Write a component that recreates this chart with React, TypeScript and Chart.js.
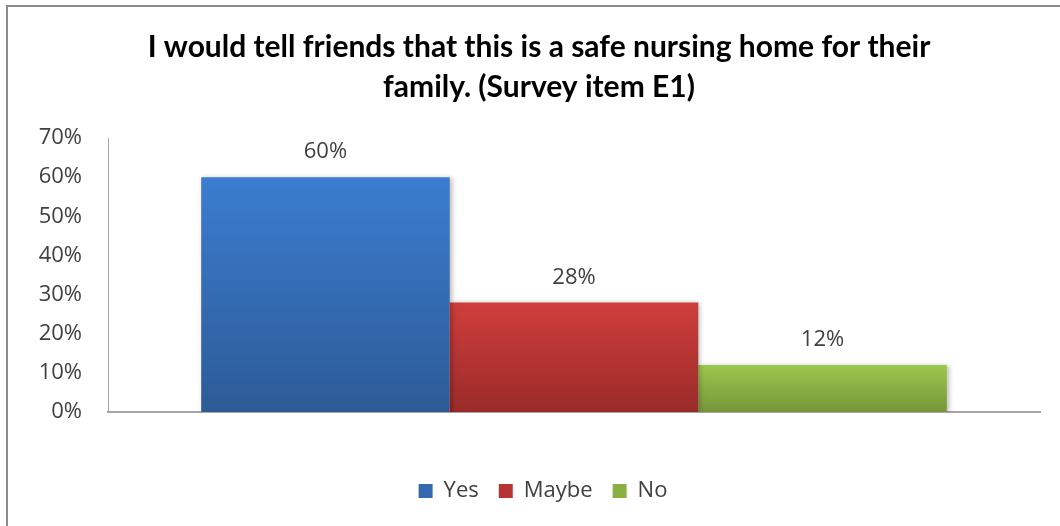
import React, { useEffect, useRef } from "react";
import { Chart, registerables } from "chart.js";

Chart.register(...registerables);

const titleLines = [
  "I would tell friends that this is a safe nursing home for their",
  "family. (Survey item E1)",
];
const categories = [""];
const seriesNames = ["Yes", "Maybe", "No"];
const yesValues = [60];
const maybeValues = [28];
const noValues = [12];
const yTicks = [0, 10, 20, 30, 40, 50, 60, 70];

const topColors = ["#3b7dcf", "#cf3e3b", "#9cc74c"];
const bottomColors = ["#2c5b96", "#9a2b2a", "#76953a"];
const legendColors = ["#3569b0", "#b83432", "#8aaf43"];

const TICK_FONT = "'Open Sans', 'DejaVu Sans', sans-serif";
const TITLE_FONT = "Lato, 'Open Sans', sans-serif";

export default function App() {
  const ref = useRef<HTMLCanvasElement | null>(null);

  useEffect(() => {
    const canvas = ref.current;
    if (!canvas) return;

    const gradientFor = (i: number) => (ctx: any) => {
      const chart = ctx.chart;
      const area = chart.chartArea;
      if (!area || !chart.scales.y) return topColors[i];
      const v = ctx.raw ?? 0;
      const yTop = chart.scales.y.getPixelForValue(v);
      const yBot = chart.scales.y.getPixelForValue(0);
      const g = chart.ctx.createLinearGradient(0, yTop, 0, yBot);
      g.addColorStop(0, topColors[i]);
      g.addColorStop(1, bottomColors[i]);
      return g;
    };

    const bgPlugin = {
      id: "bgBorder",
      afterLayout(chart: any) {
        const lg = chart.legend;
        if (lg) {
          lg.left += 23;
          lg.right += 23;
        }
      },
      beforeDraw(chart: any) {
        const c = chart.ctx;
        c.save();
        c.fillStyle = "#ffffff";
        c.fillRect(0, 0, chart.width, chart.height);
        c.strokeStyle = "#8c8c8c";
        c.lineWidth = 2;
        c.beginPath();
        c.moveTo(7, chart.height);
        c.lineTo(7, 6);
        c.lineTo(chart.width, 6);
        c.stroke();
        // title
        c.fillStyle = "#000000";
        c.font = `bold 30px ${TITLE_FONT}`;
        c.textAlign = "center";
        c.textBaseline = "middle";
        titleLines.forEach((line, i) => {
          c.fillText(line, 539, 47 + i * 40);
        });
        c.restore();
      },
      beforeDatasetsDraw(chart: any) {
        const c = chart.ctx;
        c.save();
        c.shadowColor = "rgba(0,0,0,0.28)";
        c.shadowBlur = 5;
        c.shadowOffsetX = 2;
        c.shadowOffsetY = 1;
      },
      afterDatasetsDraw(chart: any) {
        chart.ctx.restore();
        const c = chart.ctx;
        c.save();
        c.font = `22px ${TICK_FONT}`;
        c.fillStyle = "#404040";
        c.textAlign = "center";
        c.textBaseline = "middle";
        chart.data.datasets.forEach((ds: any, di: number) => {
          const meta = chart.getDatasetMeta(di);
          meta.data.forEach((bar: any, idx: number) => {
            const v = ds.data[idx];
            c.fillText(`${v}%`, bar.x, bar.y - 25);
          });
        });
        c.restore();
      },
    };

    const chart = new Chart(canvas, {
      type: "bar",
      data: {
        labels: categories,
        datasets: [
          { label: seriesNames[0], data: yesValues, backgroundColor: gradientFor(0) },
          { label: seriesNames[1], data: maybeValues, backgroundColor: gradientFor(1) },
          { label: seriesNames[2], data: noValues, backgroundColor: gradientFor(2) },
        ],
      },
      options: {
        animation: false,
        responsive: false,
        layout: { padding: { left: 0, right: 20, top: 138, bottom: 14 } },
        datasets: {
          bar: { categoryPercentage: 0.8, barPercentage: 1.0, borderWidth: 0 },
        },
        plugins: {
          title: { display: false },
          legend: {
            display: true,
            position: "bottom",
            labels: {
              font: { family: TICK_FONT, size: 22 },
              color: "#404040",
              boxWidth: 14,
              boxHeight: 14,
              padding: 20,
              generateLabels: () =>
                seriesNames.map((n, i) => ({
                  text: n,
                  fillStyle: legendColors[i],
                  strokeStyle: legendColors[i],
                  lineWidth: 0,
                  hidden: false,
                  datasetIndex: i,
                  fontColor: "#404040",
                })),
            },
          },
          tooltip: { enabled: false },
        },
        scales: {
          x: {
            grid: { display: false, drawTicks: false },
            ticks: { display: false },
            border: { display: true, color: "#a6a6a6", width: 2 },
            afterFit: (s: any) => {
              s.height = 48;
            },
          },
          y: {
            min: 0,
            max: 70,
            afterBuildTicks: (s: any) => {
              s.ticks = yTicks.map((v) => ({ value: v }));
            },
            grid: { display: false, drawTicks: false },
            border: { display: true, color: "#a6a6a6", width: 1 },
            ticks: {
              padding: 26,
              color: "#404040",
              font: { family: TICK_FONT, size: 22 },
              callback: (v: any) => `${v}%`,
            },
            afterFit: (s: any) => {
              s.width = 108;
            },
          },
        },
      },
      plugins: [bgPlugin],
    });

    return () => chart.destroy();
  }, []);

  return (
    <div style={{ position: "absolute", left: 0, top: 0, width: 1060, height: 526 }}>
      <canvas ref={ref} width={1060} height={526} />
    </div>
  );
}
